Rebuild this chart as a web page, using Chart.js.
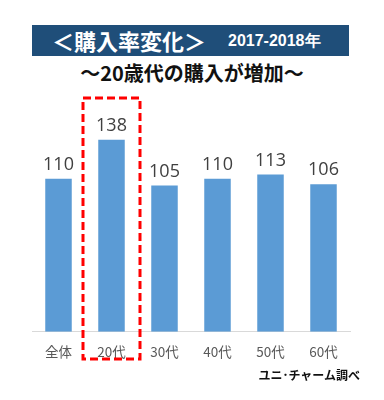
<!DOCTYPE html>
<html>
<head>
<meta charset="utf-8">
<script src="https://cdn.jsdelivr.net/npm/chart.js@4"></script>
<style>
  body { margin: 0; background: #fff; font-family: "Noto Sans CJK JP", sans-serif; }
  .wrap { position: relative; width: 384px; height: 400px; overflow: hidden; }
  .title {
    position: absolute; left: 32px; top: 25px; width: 317px; height: 31px;
    background: #1f4e79; color: #fff; white-space: nowrap;
  }
  .title .main { position: absolute; left: 20px; top: 0px; font-size: 22px; line-height: 31px; font-weight: bold; }
  .title .year { position: absolute; left: 196px; top: 0px; font-size: 16px; line-height: 31px; font-weight: bold; font-family: "Liberation Sans", sans-serif; }
  .sub { position: absolute; left: 0; width: 384px; top: 61px; text-align: center; font-size: 20px; font-weight: bold; line-height: 24px; color: #111; }
  .src { position: absolute; right: 24px; top: 366px; font-size: 12px; font-weight: bold; color: #111; }
  canvas { position: absolute; left: 0; top: 90px; }
</style>
</head>
<body>
<div class="wrap">
  <div class="title"><span class="main">＜購入率変化＞</span><span class="year">2017-2018年</span></div>
  <div class="sub">～20歳代の購入が増加～</div>
  <canvas id="chart" width="384" height="280"></canvas>
  <div class="src">ユニ･チャーム調べ</div>
</div>
<script>
const categories = ['全体', '20代', '30代', '40代', '50代', '60代'];
const values = [110, 138, 105, 110, 113, 106];
const highlightIndex = 1;

// value labels above each bar
const valueLabels = {
    id: 'valueLabels',
    afterDatasetsDraw(chart) {
        const ctx = chart.ctx;
        const meta = chart.getDatasetMeta(0);
        ctx.save();
        ctx.fillStyle = '#404040';
        ctx.font = '18px "Open Sans", sans-serif';
        ctx.textAlign = 'center';
        ctx.textBaseline = 'bottom';
        meta.data.forEach((bar, i) => {
            ctx.fillText(values[i], bar.x, bar.y - 5);
        });
        ctx.restore();
    }
};

// red dashed box round the highlighted category
const highlightBox = {
    id: 'highlightBox',
    afterDraw(chart) {
        const ctx = chart.ctx;
        const x = chart.scales.x.getPixelForValue(highlightIndex);
        const half = chart.scales.x.width / categories.length / 2 + 3;
        ctx.save();
        ctx.strokeStyle = '#ff0000';
        ctx.lineWidth = 3;
        ctx.setLineDash([8, 4]);
        ctx.strokeRect(x - half + 1, 8, half * 2 - 2, 261);
        ctx.restore();
    }
};

new Chart(document.getElementById('chart').getContext('2d'), {
    type: 'bar',
    data: {
        labels: categories,
        datasets: [{
            data: values,
            backgroundColor: '#5b9bd5',
            barPercentage: 0.5,
            categoryPercentage: 1
        }]
    },
    options: {
        responsive: false,
        animation: false,
        layout: { padding: { left: 32, right: 34, top: 19, bottom: 6 } },
        scales: {
            x: {
                grid: { display: false },
                border: { color: '#d9d9d9', width: 1 },
                ticks: {
                    color: '#595959',
                    font: { size: 13.5, family: '"Noto Sans CJK JP", sans-serif' },
                    padding: 4
                }
            },
            y: {
                display: false,
                min: 0,
                max: 160
            }
        },
        plugins: {
            legend: { display: false },
            tooltip: { enabled: false }
        }
    },
    plugins: [valueLabels, highlightBox]
});
</script>
</body>
</html>
